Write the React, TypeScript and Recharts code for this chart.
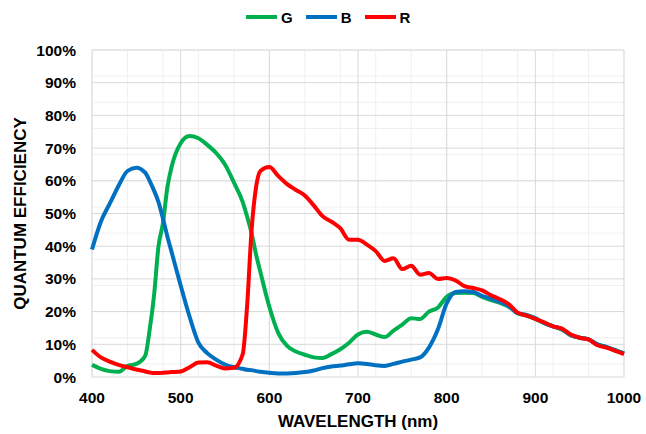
import React from 'react';
import { LineChart, Line, XAxis, YAxis, CartesianGrid, Legend } from 'recharts';

const wavelengths = [
  400, 410, 420, 430, 440, 450, 460, 465, 470, 475, 480, 485, 490, 500, 510, 520, 530, 540, 550, 560,
  570, 575, 580, 585, 590, 600, 610, 620, 630, 640, 650, 660, 670, 680, 690, 700, 710, 720, 730, 740,
  750, 760, 770, 780, 790, 800, 810, 820, 830, 840, 850, 860, 870, 880, 890, 900, 910, 920, 930, 940,
  950, 960, 970, 980, 990, 1000,
];

const greenQE = [
  3.7, 2.5, 1.8, 1.6, 3.4, 4, 6.5, 14.4, 25, 40, 47, 58, 64.5, 71.5, 73.7, 73, 71, 68.5, 65, 59.5,
  53.5, 49, 44, 37.5, 32, 21.5, 13.5, 9.5, 7.8, 6.8, 6, 5.8, 7, 8.5, 10.5, 13, 13.8, 13, 12.2, 14.2,
  16, 18, 17.7, 20, 21.2, 24.5, 25.7, 25.8, 25.7, 24.5, 23.5, 22.7, 21.5, 19.5, 18.8, 17.8, 16.5, 15.5, 14.5, 12.8,
  12, 11.5, 10, 9.2, 8.2, 7.2,
];

const blueQE = [
  39, 47.5, 53, 58.5, 63, 64, 62.5, 60, 57, 53.5, 48.5, 43, 38, 28, 18.5, 10.5, 7.3, 5.3, 3.8, 3,
  2.5, 2.2, 2.1, 1.8, 1.6, 1.3, 1.1, 1.1, 1.2, 1.5, 2, 2.7, 3.2, 3.5, 3.9, 4.2, 4, 3.6, 3.4, 4,
  4.7, 5.3, 6, 9, 14.5, 22.5, 26, 26.2, 26, 24.8, 24, 23, 21.7, 19.5, 19, 18, 16.5, 15.5, 14.7, 12.8,
  12, 11.5, 10, 9.2, 8.2, 7.2,
];

const redQE = [
  8.3, 6, 4.7, 3.7, 3, 2.3, 1.7, 1.4, 1.2, 1.2, 1.3, 1.4, 1.5, 1.7, 3, 4.4, 4.5, 3.5, 2.6, 2.8,
  7, 22, 45, 58, 63, 64.2, 61.5, 59, 57.2, 55.5, 52.5, 49.2, 47.5, 45.5, 42, 42, 40.5, 38.5, 35.5, 36.3,
  33, 34, 31.3, 31.8, 30, 30.3, 29.5, 27.8, 27.2, 26.5, 25, 23.8, 22.3, 19.7, 18.8, 17.8, 16.7, 15.5, 14.8, 13,
  12, 11.5, 9.7, 9, 8, 7,
];

const xTicks = [400, 500, 600, 700, 800, 900, 1000];
const yTicks = [0, 10, 20, 30, 40, 50, 60, 70, 80, 90, 100];

const series = [
  { key: 'G', name: 'G', color: '#00B050' },
  { key: 'B', name: 'B', color: '#0070C0' },
  { key: 'R', name: 'R', color: '#FF0000' },
];

const data = wavelengths.map((wl, i) => ({ wl, G: greenQE[i], B: blueQE[i], R: redQE[i] }));

// minor gridlines every 20 nm / 2 %
const minorX: number[] = [];
for (let v = 400; v <= 1000; v += 20) minorX.push(v);
const minorY: number[] = [];
for (let v = 0; v <= 100; v += 2) minorY.push(v);

const font = '"Liberation Sans", Arial, sans-serif';

const renderLegend = () => (
  <div style={{ display: 'flex', alignItems: 'center', height: 24, paddingLeft: 246, fontFamily: font }}>
    {series.map((s) => (
      <div key={s.key} style={{ display: 'flex', alignItems: 'center', marginRight: 13 }}>
        <div style={{ width: 31, height: 4, background: s.color, marginRight: 4 }} />
        <span style={{ fontWeight: 700, fontSize: 15, color: '#000' }}>{s.name}</span>
      </div>
    ))}
  </div>
);

export default function App() {
  return (
    <div style={{ position: 'absolute', left: 0, top: 0, background: '#fff' }}>
      <LineChart width={646} height={434} data={data} margin={{ top: 26, right: 22, bottom: 0, left: 0 }}>
        <CartesianGrid stroke="#f0f0f0" verticalValues={minorX} horizontalValues={minorY} />
        <CartesianGrid stroke="#d9d9d9" />
        <XAxis
          dataKey="wl"
          type="number"
          domain={[400, 1000]}
          ticks={xTicks}
          height={57}
          axisLine={false}
          tickLine={false}
          tickSize={0}
          tickMargin={15}
          tick={{ fill: '#000', fontSize: 15.5, fontWeight: 700, fontFamily: font }}
          label={{
            value: 'WAVELENGTH (nm)',
            position: 'insideBottom',
            offset: 7,
            style: { fill: '#000', fontSize: 17, fontWeight: 700, fontFamily: font },
          }}
        />
        <YAxis
          type="number"
          domain={[0, 100]}
          ticks={yTicks}
          width={92}
          axisLine={false}
          tickLine={false}
          tickSize={0}
          tickMargin={16}
          tickFormatter={(v) => `${v}%`}
          tick={{ fill: '#000', fontSize: 15.5, fontWeight: 700, fontFamily: font }}
          label={{
            value: 'QUANTUM EFFICIENCY',
            angle: -90,
            position: 'insideLeft',
            offset: 20,
            style: { fill: '#000', fontSize: 17, fontWeight: 700, fontFamily: font, textAnchor: 'middle' },
          }}
        />
        <Legend
          verticalAlign="top"
          content={renderLegend}
          wrapperStyle={{ top: 5, left: 0, width: 646 }}
        />
        {series.map((s) => (
          <Line
            key={s.key}
            type="monotone"
            dataKey={s.key}
            name={s.name}
            stroke={s.color}
            strokeWidth={4}
            dot={false}
            activeDot={false}
            isAnimationActive={false}
          />
        ))}
      </LineChart>
    </div>
  );
}
